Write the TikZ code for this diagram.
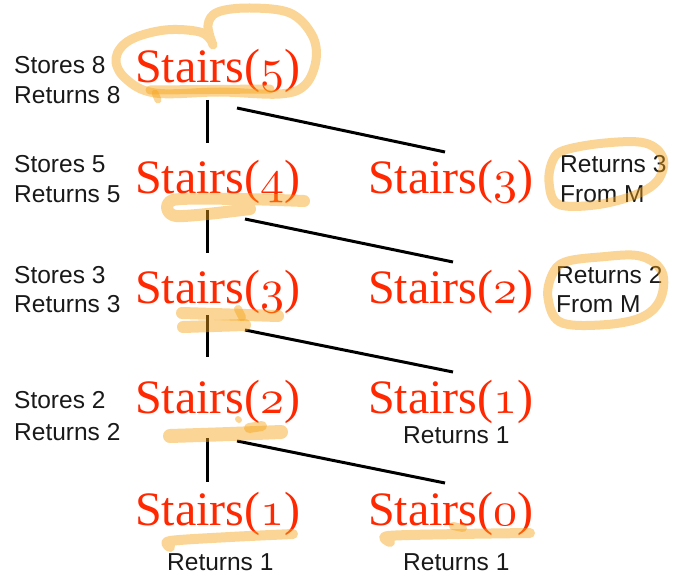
\documentclass[tikz,border=0pt]{standalone}
\usepackage{fontspec}
\newfontfamily\lblfont{Liberation Sans}
\newfontfamily\stfont{Liberation Serif}
\DeclareFontFamily{OML}{oscmm}{\skewchar\font127 }
\DeclareFontShape{OML}{oscmm}{m}{it}{<->cmmi10}{}
\definecolor{stairred}{RGB}{255,40,0}
\definecolor{hlc}{RGB}{245,162,22}
\definecolor{lblc}{RGB}{25,25,25}
\newcommand\osn[1]{{\fontencoding{OML}\fontfamily{oscmm}\fontseries{m}\fontshape{it}\selectfont #1}}
\begin{document}
\begin{tikzpicture}[x=1pt,y=-1pt,
  st/.style={anchor=base west, inner sep=0pt, text=stairred, font=\stfont\fontsize{48}{52}\selectfont},
  lbl/.style={anchor=base west, inner sep=0pt, text=lblc, font=\lblfont\fontsize{24.5}{30}\selectfont},
  conn/.style={line width=3pt, black},
  hl/.style={draw=hlc, draw opacity=0.45, line width=9pt, line cap=round, line join=round},
  hlb/.style={hl, line width=12pt},
]
\useasboundingbox (0,0) rectangle (677,575);

% left labels
\node[lbl] (l1a) at (14,74) {Stores 8};
\node[lbl] (l1b) at (14,104) {Returns 8};
\node[lbl] (l2a) at (14,172) {Stores 5};
\node[lbl] (l2b) at (14,202) {Returns 5};
\node[lbl] (l3a) at (14,283) {Stores 3};
\node[lbl] (l3b) at (14,312) {Returns 3};
\node[lbl] (l4a) at (14,408) {Stores 2};
\node[lbl] (l4b) at (14,440) {Returns 2};

% stairs nodes
\node[st] (s5) at (135,83) {Stairs(\osn5)};
\node[st] (s4) at (135,193) {Stairs(\osn4)};
\node[st] (s3) at (135,303) {Stairs(\osn3)};
\node[st] (s2) at (135,413) {Stairs(\osn2)};
\node[st] (s1) at (135,525) {Stairs(\osn1)};
\node[st] (r3) at (368,193) {Stairs(\osn3)};
\node[st] (r2) at (368,303) {Stairs(\osn2)};
\node[st] (r1) at (368,413) {Stairs(\osn1)};
\node[st] (r0) at (368,525) {Stairs(\osn0)};

% right labels
\node[lbl] (m3a) at (560,172) {Returns 3};
\node[lbl] (m3b) at (560,202) {From M};
\node[lbl] (m2a) at (556,283) {Returns 2};
\node[lbl] (m2b) at (556,312) {From M};
\node[lbl] (q1) at (403,443) {Returns 1};
\node[lbl] (q2) at (167,570) {Returns 1};
\node[lbl] (q3) at (403,570) {Returns 1};

% connectors
\coordinate (v1a) at (207.5,100); \coordinate (v1b) at (207.5,143);
\coordinate (d1a) at (237,108);   \coordinate (d1b) at (445,152);
\coordinate (v2a) at (207.5,210); \coordinate (v2b) at (207.5,253);
\coordinate (d2a) at (245,219);   \coordinate (d2b) at (453,262);
\coordinate (v3a) at (207.5,315); \coordinate (v3b) at (207.5,357);
\coordinate (d3a) at (245,330);   \coordinate (d3b) at (453,372);
\coordinate (v4a) at (207.5,438); \coordinate (v4b) at (207.5,482);
\coordinate (d4a) at (237,441);   \coordinate (d4b) at (445,483);
\draw[conn] (v1a) -- (v1b);
\draw[conn] (d1a) -- (d1b);
\draw[conn] (v2a) -- (v2b);
\draw[conn] (d2a) -- (d2b);
\draw[conn] (v3a) -- (v3b);
\draw[conn] (d3a) -- (d3b);
\draw[conn] (v4a) -- (v4b);
\draw[conn] (d4a) -- (d4b);

% highlights
\draw[hl] plot[smooth, tension=0.6] coordinates {(213,45) (208,25) (218,12) (250,8) (290,13) (312,35) (316,60) (305,85) (280,94) (220,92) (155,93) (125,78) (116,58) (130,40) (165,30) (200,32) (212,42)};
\draw[hl] (150,90) -- (270,89);
\draw[hl, line width=7pt] (155,93) -- (158,100);

\draw[hlb] plot[smooth, tension=0.5] coordinates {(304,201) (240,199) (173,200) (176,216) (250,209)};

\draw[hlb] (182,313) -- (278,316);
\draw[hlb] (183,327) -- (245,325);
\draw[hl, line width=8pt] (238,309) -- (242,317);

\draw[hlb, line width=14pt] plot[smooth] coordinates {(170,436) (230,434) (281,432)};
\draw[hl, line width=10pt] (249,428) -- (262,426);
\draw[hl, line width=6pt] (238,419) -- (239,420);

\draw[hl, line width=10pt] plot[smooth] coordinates {(170,547) (170,541) (230,537) (293,534)};

\draw[hl, line width=10pt] plot[smooth] coordinates {(390,542) (388,536) (460,534) (530,533)};
\draw[hl, line width=8pt] (453,526) -- (463,528);

\draw[hl] plot[smooth cycle, tension=0.6] coordinates {(565,150) (605,143) (645,143) (663,158) (658,180) (635,195) (595,205) (558,204) (549,182) (553,160)};
\draw[hl] plot[smooth cycle, tension=0.6] coordinates {(565,262) (600,257) (640,256) (662,272) (660,300) (640,318) (600,325) (560,322) (548,298) (552,275)};
\end{tikzpicture}
\end{document}
